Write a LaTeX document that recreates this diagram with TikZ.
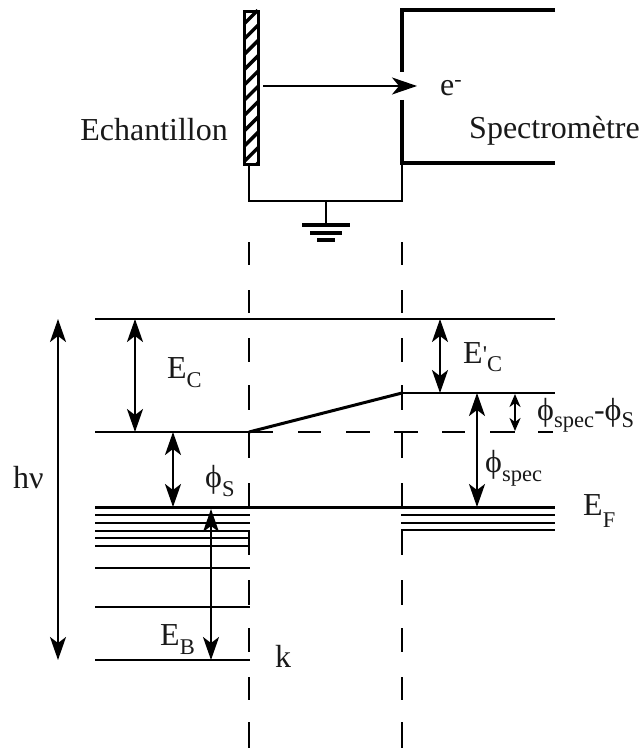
\documentclass[tikz,border=0pt]{standalone}
\usepackage{fontspec}
\setmainfont{Liberation Serif}
\newfontfamily\plainf{Liberation Serif}
\usetikzlibrary{arrows.meta,patterns}
\newcommand{\lowtxt}[2][9pt]{\raisebox{-#1}{\fontsize{22.5}{24}\selectfont #2}}
\tikzset{
 x=1pt,y=-1pt,
 lab/.style={inner sep=0pt,font=\fontsize{32}{34}\selectfont,text=black!90},
 wire/.style={line width=2.2pt},
 thick wire/.style={line width=3.1pt},
 level/.style={line width=2.6pt},
 dim/.style={line width=2.2pt,{Stealth[length=23pt,width=16pt,inset=6pt]}-{Stealth[length=23pt,width=16pt,inset=6pt]}},
 guide/.style={line width=2.1pt},
}
\begin{document}
\begin{tikzpicture}
\useasboundingbox (0,0) rectangle (642,751);
% sample
\node[draw=black,line width=3pt,minimum width=14pt,minimum height=153pt,inner sep=0pt,anchor=north west] (sample) at (243,10) {};
\begin{scope}
\clip (243,10) rectangle (257,163);
\foreach \i in {0,...,12}{\draw[line width=3.4pt] (240,{28+\i*15.3}) -- (260,{8+\i*15.3});}
\end{scope}
% spectrometer
\coordinate (c1) at (402,10); \coordinate (c2) at (555,10);
\coordinate (c3) at (402,72); \coordinate (c4) at (402,100);
\coordinate (c5) at (402,163); \coordinate (c6) at (555,163);
\coordinate (g0) at (249,201); \coordinate (g1) at (402,201);
\coordinate (g2) at (326,201); \coordinate (g3) at (326,225);
\draw[thick wire] (c2)--(c1)--(c3);
\draw[thick wire] (c4)--(c5)--(c6);
\draw[wire] (sample.south -| g0)--(g0)--(g1)--(c5);
\draw[wire] (g2)--(g3);
\coordinate (gl1) at (302,225); \coordinate (gr1) at (350,225);
\coordinate (gl2) at (310,233); \coordinate (gr2) at (342,233);
\coordinate (gl3) at (317,240); \coordinate (gr3) at (335,240);
\draw[thick wire] (gl1)--(gr1); \draw[thick wire] (gl2)--(gr2); \draw[thick wire] (gl3)--(gr3);
\coordinate (e0) at (263,86); \coordinate (e1) at (417,86);
\draw[line width=2.2pt,-{Stealth[length=25pt,width=17pt,inset=7pt]}] (e0)--(e1);
% guides
\foreach \x in {249,402}{
 \foreach \a/\b in {242/265,290/313,338/362,385/410,432/458,483/507,530/555,580/605,628/652,677/700,722/748}
  {\draw[guide] (\x,\a)--(\x,\b);}}
% levels
\foreach \a/\b/\y in {95/555/319,95/273/432,402/555/393,95/555/507.5,95/250/515,95/250/523,95/250/531,95/250/538,95/250/546,95/250/568,95/250/607,95/250/660,401/555/515,401/555/523,401/555/530}
 {\draw[level] (\a,\y)--(\b,\y);}
\draw[line width=3pt] (249,432)--(402,393);
\foreach \a/\b in {298/321,346/370,394/418,442/465,490/515,538/553}{\draw[level] (\a,432)--(\b,432);}
% arrows
\draw[dim] (58,319)--(58,660);
\draw[dim] (135,319)--(135,432);
\draw[dim] (173,432)--(173,507);
\draw[dim] (211,509)--(211,660);
\draw[dim] (440,319)--(440,393);
\draw[dim] (477,393)--(477,507);
\draw[line width=2.2pt,{Stealth[length=13pt,width=11pt,inset=4pt]}-{Stealth[length=13pt,width=11pt,inset=4pt]}] (515,394)--(515,431);
% labels
\node[lab,anchor=base east] (tech) at (228,141) {Echantillon};
\node[lab,anchor=base east] (tspec) at (640,139) {Spectromètre};
\node[lab,anchor=base west] (te) at (440,96) {e\raisebox{9pt}{\fontsize{22}{24}\selectfont -}};
\node[lab,anchor=base west] (thv) at (13,488) {hν};
\node[lab,anchor=base west] (tec) at (167,378) {E\lowtxt{C}};
\node[lab,anchor=base west] (tphis) at (205,487) {ϕ\lowtxt{S}};
\node[lab,anchor=base west] (teb) at (160,645) {E\lowtxt{B}};
\node[lab,anchor=base west] (tk) at (275,667) {k};
\node[lab,anchor=base west] (tecp) at (463,363) {E\raisebox{1pt}{\fontsize{24}{24}\plainf '}\lowtxt[8pt]{C}};
\node[lab,anchor=base west] (tdiff) at (537,420) {ϕ\lowtxt[7pt]{spec}-ϕ\lowtxt[7pt]{S}};
\node[lab,anchor=base west] (tphi) at (485,472) {ϕ\lowtxt{spec}};
\node[lab,anchor=base west] (tef) at (583,515) {E\lowtxt[12pt]{F}};
\end{tikzpicture}
\end{document}
